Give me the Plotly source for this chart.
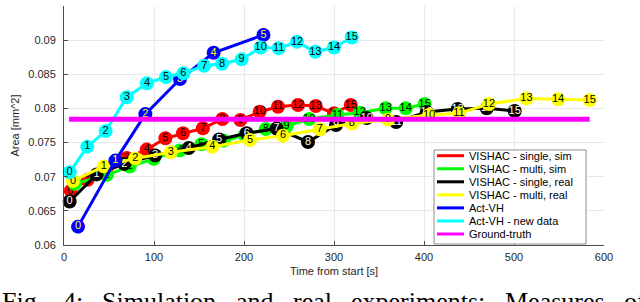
import plotly.graph_objects as go

# ---------------- data ----------------
red_x = [7.4, 26.3, 47.4, 69.7, 91.9, 112.7, 132.2, 154.4, 176.0, 196.0, 217.4, 237.8, 260.0, 279.7, 300.0, 318.6]
red_y = [0.06793, 0.06954, 0.07129, 0.07275, 0.07397, 0.07563, 0.07636, 0.07709, 0.07845, 0.07830, 0.07952, 0.08025, 0.08050, 0.08035, 0.07928, 0.08050]

green_x = [11.9, 47.7, 73.0, 99.7, 128.6, 152.7, 177.4, 200.8, 224.1, 247.4, 272.4, 303.8, 328.6, 357.4, 379.7, 400.8]
green_y = [0.06896, 0.07027, 0.07148, 0.07261, 0.07385, 0.07475, 0.07528, 0.07611, 0.07699, 0.07743, 0.07845, 0.07903, 0.07937, 0.08001, 0.08001, 0.08064]

black_x = [6.3, 36.3, 66.9, 101.3, 138.6, 172.4, 203.0, 236.3, 271.1, 302.2, 336.3, 369.1, 403.0, 437.4, 469.7, 500.8]
black_y = [0.06637, 0.07034, 0.07188, 0.07312, 0.07421, 0.07546, 0.07636, 0.07706, 0.07509, 0.07757, 0.07860, 0.07801, 0.07947, 0.07991, 0.08001, 0.07962]

yellow_x = [10.0, 44.1, 79.1, 118.6, 164.9, 206.7, 243.3, 284.1, 319.9, 360.0, 405.6, 438.9, 472.2, 513.8, 548.9, 584.1]
yellow_y = [0.06939, 0.07151, 0.07268, 0.07359, 0.07439, 0.07538, 0.07601, 0.07696, 0.07778, 0.07836, 0.07903, 0.07928, 0.08064, 0.08147, 0.08133, 0.08123]

blue_x = [15.6, 57.1, 90.4, 128.9, 166.3, 221.6]
blue_y = [0.06269, 0.07236, 0.07917, 0.08431, 0.08815, 0.09077]

cyan_x = [6.3, 25.8, 46.3, 69.7, 92.2, 113.3, 132.7, 155.8, 175.6, 197.4, 218.6, 238.6, 258.9, 279.3, 300.0, 319.7]
cyan_y = [0.07065, 0.07440, 0.07669, 0.08164, 0.08369, 0.08460, 0.08514, 0.08624, 0.08654, 0.08719, 0.08893, 0.08883, 0.08975, 0.08829, 0.08893, 0.09039]

truth_x = [5.6, 584.1]
truth_y = [0.07841, 0.07841]

series_names = ["VISHAC - single, sim", "VISHAC - multi, sim", "VISHAC - single, real",
                "VISHAC - multi, real", "Act-VH", "Act-VH - new data", "Ground-truth"]

x_ticks = [0, 100, 200, 300, 400, 500, 600]
x_tick_labels = ["0", "100", "200", "300", "400", "500", "600"]
y_ticks = [0.06, 0.065, 0.07, 0.075, 0.08, 0.085, 0.09, 0.095]
y_tick_labels = ["0.06", "0.065", "0.07", "0.075", "0.08", "0.085", "0.09", "0.095"]

caption_words = ["Fig.", "4:", "Simulation", "and", "real", "experiments:", "Measures", "of"]

# ---------------- styles ----------------
colors = ["#ff0000", "#00ff00", "#000000", "#ffff00", "#0000ff", "#00ffff", "#ff00ff"]
label_colors = ["#000000", "#000000", "#ffffff", "#000000", "#ffff00", "#000000"]

W, H = 640, 302
L, R, T, B = 64, 36, 6, 57
PW, PH = W - L - R, H - T - B


def px(xp):
    return (xp - L) / PW


def py(yp):
    return (H - B - yp) / PH


fig = go.Figure()

data_series = [(red_x, red_y), (green_x, green_y), (black_x, black_y),
               (yellow_x, yellow_y), (blue_x, blue_y), (cyan_x, cyan_y)]

for i, (xs, ys) in enumerate(data_series):
    fig.add_trace(go.Scatter(
        x=xs, y=ys, mode="lines+markers+text",
        text=[str(k) for k in range(len(xs))],
        textposition="middle center",
        textfont=dict(family="Liberation Sans, Arial", size=11, color=label_colors[i]),
        line=dict(color=colors[i], width=3),
        marker=dict(color=colors[i], size=14, line=dict(width=0)),
        name=series_names[i], showlegend=False, cliponaxis=False,
    ))

fig.add_trace(go.Scatter(
    x=truth_x, y=truth_y, mode="lines",
    line=dict(color=colors[6], width=5),
    name=series_names[6], showlegend=False,
))

axis_common = dict(
    showline=True, linecolor="#4d4d4d", linewidth=1,
    ticks="inside", ticklen=4, tickcolor="#4d4d4d",
    showgrid=True, gridcolor="#e8e8e8", gridwidth=1,
    zeroline=False,
    tickfont=dict(family="Liberation Sans, Arial", size=11, color="#262626"),
)

fig.update_xaxes(range=[0, 600], tickvals=x_ticks, ticktext=x_tick_labels,
                 title=dict(text="Time from start [s]",
                            font=dict(family="Liberation Sans, Arial", size=11, color="#262626"),
                            standoff=5),
                 ticklabelstandoff=2, **axis_common)
fig.update_yaxes(range=[0.06, 0.095], tickvals=y_ticks, ticktext=y_tick_labels,
                 title=dict(text="Area [mm^2]",
                            font=dict(family="Liberation Sans, Arial", size=11, color="#262626"),
                            standoff=6),
                 ticklabelstandoff=5, **axis_common)

# ---------------- legend (drawn box) ----------------
shapes = []
annotations = []
leg_left, leg_top, leg_right, leg_bottom = 434, 150, 586, 244
shapes.append(dict(type="rect", xref="paper", yref="paper",
                   x0=px(leg_left), x1=px(leg_right), y0=py(leg_bottom), y1=py(leg_top),
                   line=dict(color="#8c8c8c", width=1), fillcolor="white", layer="above"))
for i, name in enumerate(series_names):
    yy = 155.7 + i * 13.05
    shapes.append(dict(type="line", xref="paper", yref="paper",
                       x0=px(437), x1=px(464), y0=py(yy), y1=py(yy),
                       line=dict(color=colors[i], width=3), layer="above"))
    annotations.append(dict(xref="paper", yref="paper", x=px(466.5), y=py(yy),
                            xanchor="left", yanchor="middle", showarrow=False,
                            text=name,
                            font=dict(family="Liberation Sans, Arial", size=11, color="#000000")))

# ---------------- caption ----------------
caption_px = [0, 60.6, 100.2, 233.7, 290.7, 349.1, 502.8, 621.8]
for w, xp in zip(caption_words, caption_px):
    annotations.append(dict(xref="paper", yref="paper", x=px(xp), y=py(285),
                            xanchor="left", yanchor="top", showarrow=False,
                            text=w,
                            font=dict(family="Liberation Serif, Times New Roman", size=26, color="#000000")))

fig.update_layout(
    width=W, height=H, autosize=False,
    margin=dict(l=L, r=R, t=T, b=B),
    paper_bgcolor="white", plot_bgcolor="white",
    shapes=shapes, annotations=annotations,
    showlegend=False,
)

fig.write_html("out.html", config={"displayModeBar": False},
               post_script="document.body.style.margin='0';")
